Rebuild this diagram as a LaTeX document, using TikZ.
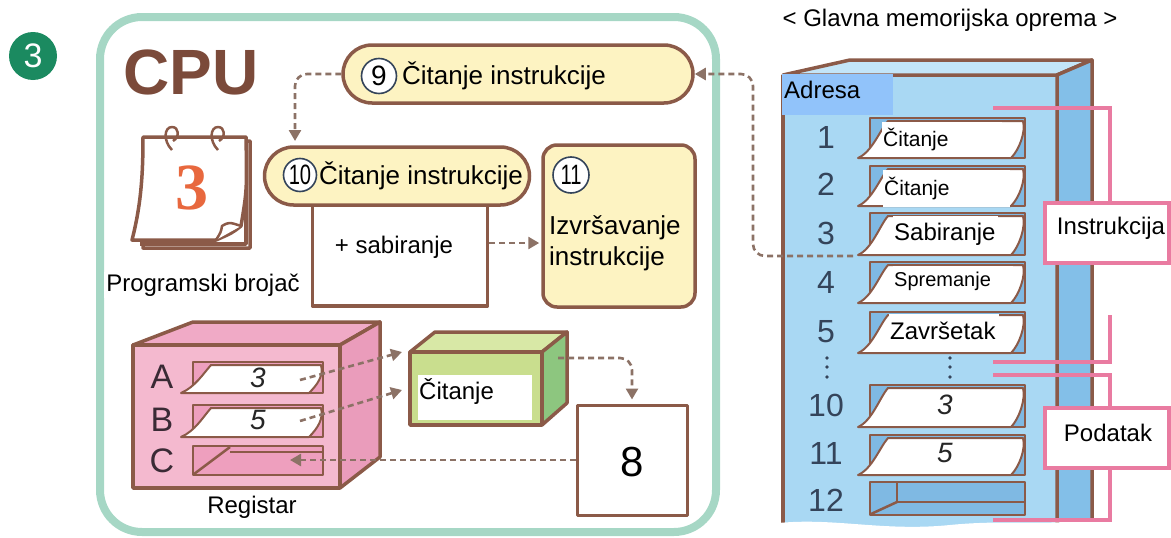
\documentclass[tikz,border=0pt]{standalone}
\usepackage{fontspec}
\usepackage{graphicx}
\setmainfont{Liberation Sans}
\newfontfamily\calfont{Liberation Serif}
\usetikzlibrary{arrows.meta}

\definecolor{brownline}{HTML}{8B5A48}
\definecolor{dashcol}{HTML}{8C7266}
\definecolor{cputext}{HTML}{7B4A3A}
\definecolor{framegreen}{HTML}{A6D7C5}
\definecolor{pillfill}{HTML}{FDF3C2}
\definecolor{regpink}{HTML}{F4B9CF}
\definecolor{regside}{HTML}{EA9CBB}
\definecolor{regtop}{HTML}{F0AAC6}
\definecolor{regslot}{HTML}{EE9FBE}
\definecolor{alufront}{HTML}{C9DE8E}
\definecolor{alutop}{HTML}{D8E8A6}
\definecolor{aluside}{HTML}{8DC67F}
\definecolor{memfront}{HTML}{A9D8F3}
\definecolor{memtop}{HTML}{C3E5F8}
\definecolor{memside}{HTML}{83BFE8}
\definecolor{memslot}{HTML}{7FB9E3}
\definecolor{adrfill}{HTML}{91C3FA}
\definecolor{bracketcol}{HTML}{E97BA1}
\definecolor{badgecol}{HTML}{1B8A60}
\definecolor{calorange}{HTML}{E8683E}
\definecolor{numink}{HTML}{34445A}
\definecolor{letterink}{HTML}{3A2A35}

\newcommand\setfs[1]{\fontsize{#1}{#1}\selectfont}

% slot holding a sheet that is half pulled out
\newcommand\sheetslot[5]{%
  \draw[thinline, fill=#5] (#1,#2) rectangle (#3,#4);
  \draw[thinline, line width=2pt, fill=white] (#1-12,#4)
    .. controls (#1+2,#4-6) and (#1+10,#2+12) .. (#1+18,#2+3)
    -- (#3-2,#2+3)
    .. controls (#3+1,#2+14) and (#3-6,#4-8) .. (#3-14,#4) -- cycle;
}

\begin{document}
\begin{tikzpicture}[x=1pt,y=-1pt,
  outline/.style={draw=brownline, line width=3.5pt, line join=round},
  thinline/.style={draw=brownline, line width=2.5pt, line join=round},
  flow/.style={draw=dashcol, line width=2.6pt, dash pattern=on 6pt off 4pt,
    rounded corners=12pt, -{Triangle[length=11pt,width=12pt]}},
  pill/.style={outline, fill=pillfill, rounded corners=29pt},
  stepnum/.style={circle, draw=numink, line width=1.6pt, fill=white,
    inner sep=0pt, minimum size=35pt, font=\setfs{28}},
  lbl/.style={inner sep=0pt, font=\setfs{26}},
  lblmid/.style={inner sep=0pt, font=\setfs{24}},
  memlbl/.style={fill=white, anchor=north west, inner xsep=1pt, inner ysep=0pt, align=left},
  numlbl/.style={inner sep=0pt, font=\setfs{32}, text=numink},
  reglbl/.style={inner sep=0pt, font=\setfs{34}, text=letterink},
  datadigit/.style={inner sep=0pt, font=\setfs{28}\itshape, text=black!85},
  bracketline/.style={draw=bracketcol, line width=4pt},
]
\useasboundingbox (0,0) rectangle (1171,538);

% ---------- step badge ----------
\node[circle, fill=badgecol, minimum size=48pt, inner sep=0pt,
      text=white, font=\setfs{34}] (badge) at (33,56) {3};

% ---------- CPU frame ----------
\draw[framegreen, line width=8pt, rounded corners=42pt] (100,17) rectangle (716,532);
\node[inner sep=0pt, text=cputext, font=\setfs{64}\bfseries] (cpu) at (191,72) {CPU};

% ---------- step 9 ----------
\node[pill, minimum width=350pt, minimum height=58pt] (p9) at (518,74) {};
\node[stepnum] (n9) at (379,76) {9};
\node[lbl, anchor=west] (t9) at (402,76) {Čitanje instrukcije};

% ---------- step 10 ----------
\node[outline, fill=white, minimum width=175pt, minimum height=112pt] (sumpaper) at (400,250) {};
\node[lblmid] (sumtxt) at (394,247) {+ sabiranje};
\node[pill, minimum width=265pt, minimum height=58pt] (p10) at (397,176) {};
\node[stepnum, minimum size=33pt] (n10) at (300,175) {\scalebox{0.72}[1]{10}};
\node[lbl, anchor=west] (t10) at (319,176) {Čitanje instrukcije};

% ---------- step 11 ----------
\node[outline, fill=pillfill, rounded corners=14pt, minimum width=152pt, minimum height=162pt] (p11) at (619,226) {};
\node[stepnum, minimum size=36pt] (n11) at (571,175) {\scalebox{0.72}[1]{11}};
\node[inner sep=0pt, anchor=west, align=left, font=\fontsize{26}{31}\selectfont] (t11) at (549,243) {Izvršavanje\\instrukcije};

% ---------- program counter (calendar) ----------
\draw[outline, fill=white] (146,141) -- (250,141) -- (250,248) -- (143,248) -- cycle;
\draw[outline] (140,244) -- (246,244) -- (246,141);
\draw[outline, fill=white] (143,137) -- (246,137)
  .. controls (247,190) .. (241,226)
  .. controls (232,233) .. (216,240) -- (132,240)
  .. controls (141,205) and (143,175) .. (143,137) -- cycle;
\draw[thinline, fill=white] (241,226) .. controls (229,222) .. (222,226) .. controls (221,232) .. (216,240);
\foreach \rx in {172,218}{
  \draw[thinline] (\rx,150) .. controls (\rx-9,141) and (\rx-8,127) .. (\rx,127)
    .. controls (\rx+7,127) and (\rx+8,137) .. (\rx+1,141);
}
\node[inner sep=0pt, text=calorange, font=\calfont\bfseries\setfs{66}] (calnum) at (192,188) {3};
\node[lblmid, fill=white, inner sep=2pt] (pctxt) at (203,285) {Programski brojač};

% ---------- register block ----------
\draw[outline, fill=regtop] (133,345) -- (193,322) -- (380,322) -- (340,345) -- cycle;
\draw[outline, fill=regside] (340,345) -- (380,322) -- (380,457) -- (340,488) -- cycle;
\draw[outline, fill=regpink] (133,345) rectangle (340,488);
\node[reglbl] (ra) at (162,377) {A};
\node[reglbl] (rb) at (162,420) {B};
\node[reglbl] (rc) at (162,461) {C};
\sheetslot{193}{362}{323}{393}{regslot}
\sheetslot{193}{405}{323}{437}{regslot}
\draw[thinline, fill=regslot] (193,446) rectangle (323,475);
\draw[thinline] (194,474) -- (230,447);
\draw[thinline] (230,452) -- (323,452);
\node[datadigit] (rav) at (258,378) {3};
\node[datadigit] (rbv) at (258,420) {5};
\node[lblmid] (regtxt) at (252,507) {Registar};
\coordinate (regAout) at (300,380);
\coordinate (regBout) at (300,421);
\coordinate (regCin) at (290,460);

% ---------- arithmetic unit ----------
\draw[outline, fill=alutop] (410,352) -- (435,332) -- (567,332) -- (542,352) -- cycle;
\draw[outline, fill=aluside] (542,352) -- (567,332) -- (567,403) -- (542,425) -- cycle;
\draw[outline, fill=alufront] (410,352) rectangle (542,425);
\fill[white] (418,375) rectangle (532,420);
\node[lblmid, anchor=west] (alutxt) at (419,391) {Čitanje};
\coordinate (aluinA) at (402,352);
\coordinate (aluinB) at (402,390);
\coordinate (aluout) at (558,358);

% ---------- result sheet ----------
\node[outline, line width=3pt, fill=white, minimum width=110pt, minimum height=110pt] (eight) at (632,460) {};
\node[inner sep=0pt, font=\setfs{42}] (eighttxt) at (632,462) {8};

% ---------- main memory ----------
\node[lblmid] (memtitle) at (950,20) {< Glavna memorijska oprema >};
\fill[memfront] (783,75) rectangle (1057,532);
\draw[outline, fill=memtop] (783,75) -- (850,60) -- (1092,60) -- (1057,75) -- cycle;
\draw[outline, fill=memside] (1057,75) -- (1092,60) -- (1092,532) -- (1057,532) -- cycle;
\draw[outline] (783,75) -- (783,532);
% torn lower edge
\fill[white] (770,540) -- (770,524) .. controls (830,516) and (880,532) .. (950,525)
  .. controls (1010,519) and (1050,527) .. (1100,518) -- (1100,540) -- cycle;
\fill[adrfill] (782,74) rectangle (893,115);
\node[lblmid, anchor=west] (adrtxt) at (784,90) {Adresa};

\foreach \ry/\rn in {137/1,184/2,233/3,282/4,332/5,405/10,453/11,500/12}{
  \node[numlbl] (addr\rn) at (826,\ry) {\rn};
}
\sheetslot{870}{118}{1025}{158}{memslot}
\sheetslot{870}{166}{1025}{206}{memslot}
\sheetslot{870}{213}{1025}{255}{memslot}
\sheetslot{870}{262}{1025}{303}{memslot}
\sheetslot{870}{312}{1025}{353}{memslot}
\sheetslot{870}{385}{1025}{427}{memslot}
\sheetslot{870}{435}{1025}{475}{memslot}
\draw[thinline, fill=memslot] (870,482) rectangle (1025,515);
\draw[thinline] (897,483) -- (897,502) -- (1025,502);
\draw[thinline] (871,514) -- (897,502);
\foreach \dx in {827,950}{
  \foreach \dy in {358,367,377}{ \fill[numink] (\dx,\dy) circle (1.8pt); }
}
\node[memlbl, text width=118pt, minimum height=35pt, font=\setfs{21}] (m1) at (882,122) {Čitanje};
\node[memlbl, text width=125pt, minimum height=37pt, font=\setfs{21}] (m2) at (883,170) {Čitanje};
\node[memlbl, text width=103pt, minimum height=37pt, font=\setfs{24}] (m3) at (893,216) {Sabiranje};
\node[memlbl, text width=118pt, minimum height=31pt, font=\setfs{20}] (m4) at (893,266) {Spremanje};
\node[memlbl, text width=108pt, minimum height=33pt, font=\setfs{24}] (m5) at (889,314) {Završetak};
\node[datadigit] (m10) at (945,405) {3};
\node[datadigit] (m11) at (945,453) {5};
\coordinate (memrow3) at (853,256);

% ---------- brackets ----------
\draw[bracketline] (993,108) -- (1110,108) -- (1110,203);
\draw[bracketline] (1110,315) -- (1110,362) -- (993,362);
\node[draw=bracketcol, line width=4pt, fill=white, minimum width=124pt, minimum height=60pt] (instr) at (1107,233) {};
\node[lblmid] (instrtxt) at (1111,228) {Instrukcija};
\draw[bracketline] (993,375) -- (1110,375) -- (1110,408);
\draw[bracketline] (1110,468) -- (1110,520) -- (993,520);
\node[draw=bracketcol, line width=4pt, fill=white, minimum width=124pt, minimum height=60pt] (data) at (1107,438) {};
\node[lblmid] (datatxt) at (1108,433) {Podatak};

% ---------- data flow ----------
\draw[flow] (p9.west) -| (295,141);
\draw[flow, shorten >=2pt] ([yshift=7pt]sumpaper.east) -- ([yshift=7pt]sumpaper.east -| p11.west);
\draw[flow] (memrow3) -- (753,256) -- (753,74) -- (p9.east);
\draw[flow] (regAout) -- (aluinA);
\draw[flow] (regBout) -- (aluinB);
\draw[flow] (aluout) -| ([yshift=4pt]eight.north);
\draw[flow] (eight.west) -- (regCin);
\end{tikzpicture}
\end{document}
